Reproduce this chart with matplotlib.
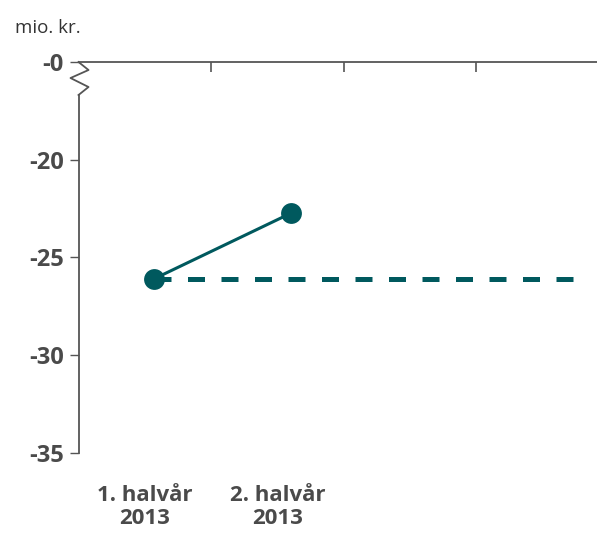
import numpy as np
import matplotlib.pyplot as plt
from matplotlib import transforms

plt.rcParams['font.family'] = ['Open Sans', 'DejaVu Sans']

# Data
periods = ['1. halvår\n2013', '2. halvår\n2013']
values = [-26.1, -22.75]
baseline = values[0]
ytick_vals = [-35, -30, -25, -20, -15]
ytick_labels = ['-35', '-30', '-25', '-20', '-0']

teal = '#00595e'
grey = '#555555'
text_grey = '#4a4a4a'

fig = plt.figure(figsize=(5.97, 5.34), dpi=100)
ax = fig.add_axes([78.5 / 597, 1 - 452.7 / 534, 1 - 78.5 / 597, (452.7 - 62) / 534])

band = np.arange(len(periods))
x_pts = band + np.array([0.57, 0.60])

# reference line at first half-year level
ax.hlines(baseline, x_pts[0], 3.73, color=teal, lw=3.6,
          linestyles=(0, (3.4, 3.3)), capstyle='butt', zorder=2)
ax.plot(x_pts, values, color=teal, lw=2.2, marker='o', ms=15,
        markeredgewidth=0, zorder=3)

ax.set_xlim(0, (597 - 78.5) / 132.5)
ax.set_ylim(-35, -15)

ax.set_yticks(ytick_vals)
ax.set_yticklabels(ytick_labels)
ax.set_xticks(band + 0.5)
ax.set_xticklabels(periods, linespacing=1.15)
ax.set_xticks([1, 2, 3], minor=True)

ax.tick_params(axis='y', length=6.5, width=1, color=grey, pad=4,
               labelsize=17, labelcolor=text_grey)
for lab in ax.get_yticklabels() + ax.get_xticklabels():
    lab.set_fontweight('bold')
ax.tick_params(axis='x', which='major', length=0, pad=23,
               labelsize=16, labelcolor=text_grey)
ax.tick_params(axis='x', which='minor', bottom=False, top=True,
               direction='in', length=7, width=1.2, color=grey)

for s in ['right', 'bottom']:
    ax.spines[s].set_visible(False)
ax.spines['top'].set_color(grey)
ax.spines['top'].set_linewidth(1.3)
ax.spines['left'].set_color(grey)
ax.spines['left'].set_linewidth(1.3)
ax.spines['left'].set_bounds(-35, -16.69)

# axis break zigzag
trans = transforms.blended_transform_factory(ax.transAxes, ax.transData)
ax.plot([0, 0.0193, -0.0154, 0.0193, 0], [-15, -15.41, -15.82, -16.28, -16.69],
        color=grey, lw=1.3, transform=trans, clip_on=False)

fig.text(15 / 597, 1 - 28 / 534, 'mio. kr.', fontsize=13.5, color='#333333',
         va='center', ha='left')

fig.savefig('out.png', dpi=100)
